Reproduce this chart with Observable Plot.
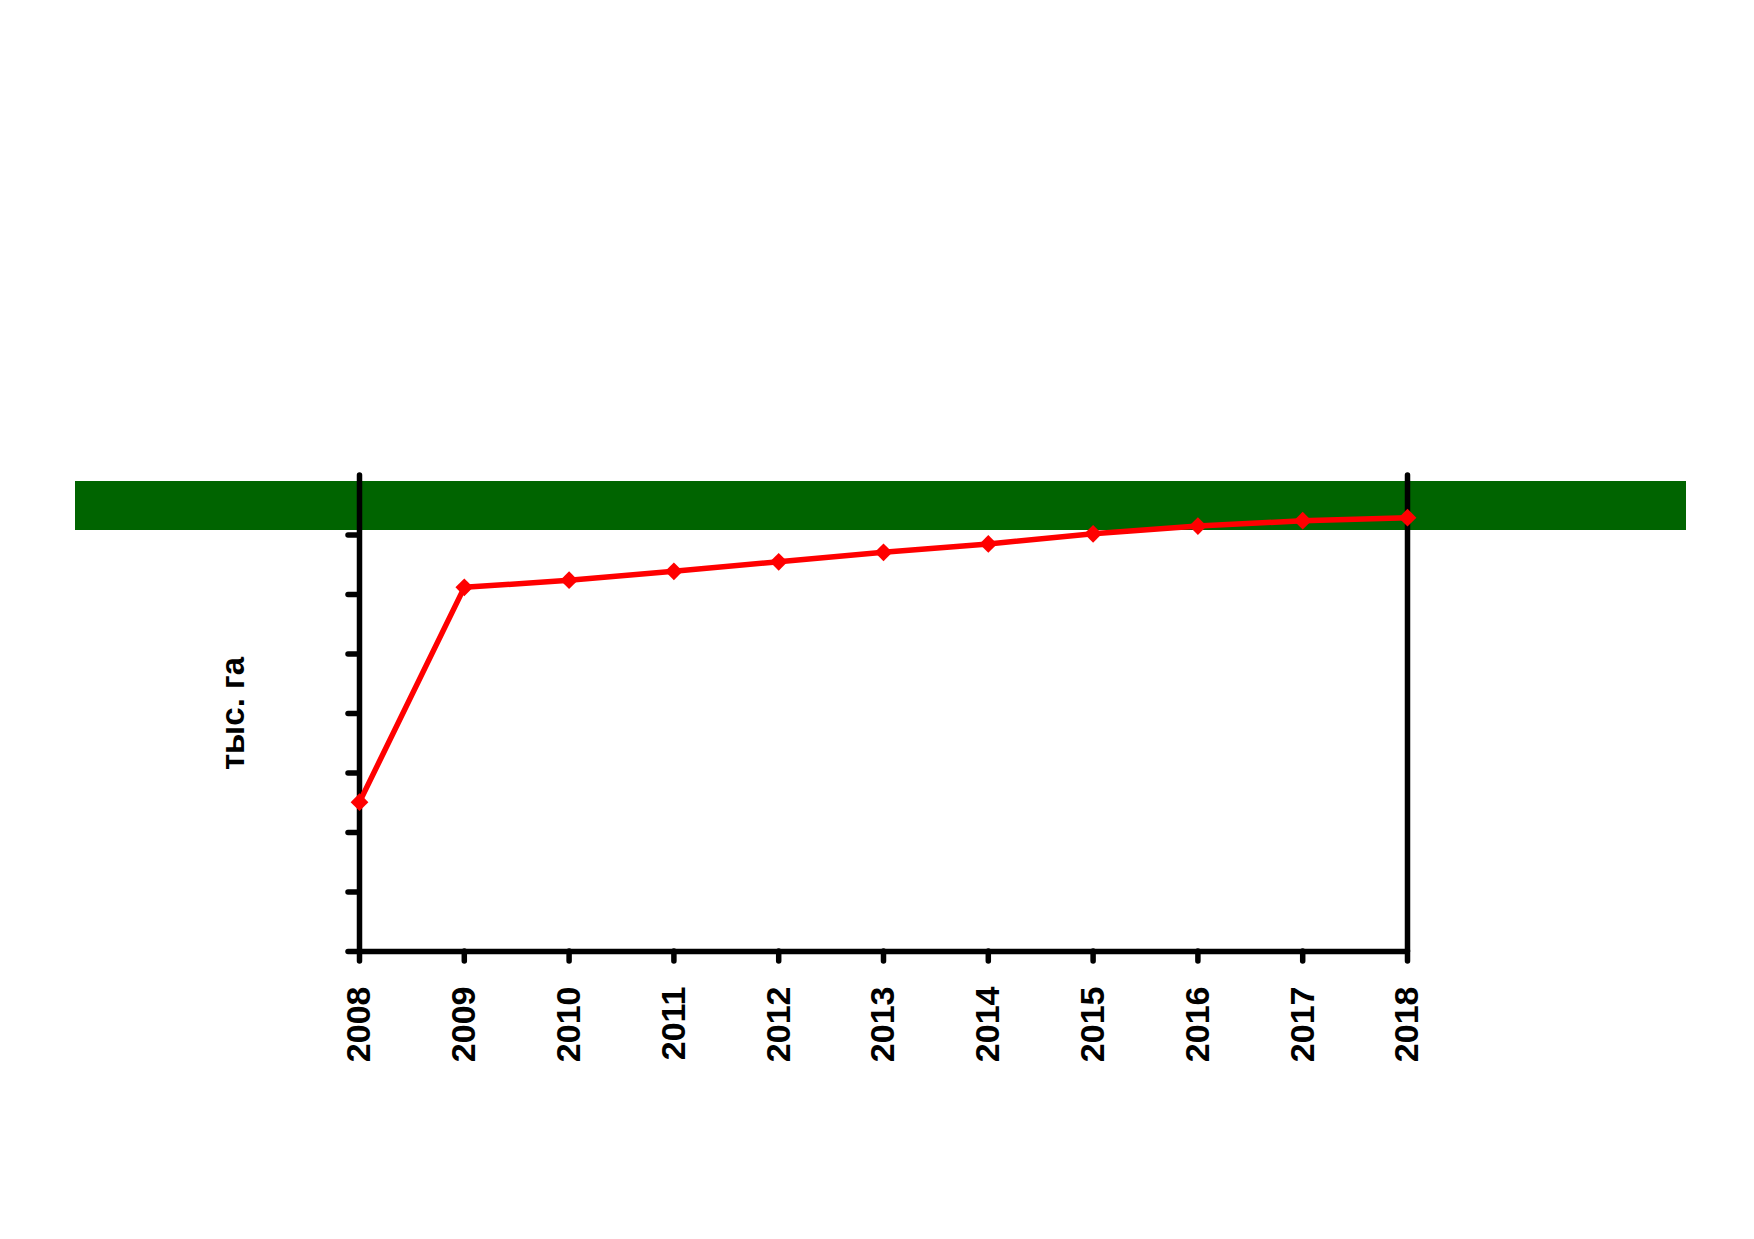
<!DOCTYPE html>
<html><head><meta charset="utf-8">
<script src="https://cdn.jsdelivr.net/npm/d3@7"></script>
<script src="https://cdn.jsdelivr.net/npm/@observablehq/plot@0.6"></script>
<style>
html,body{margin:0;padding:0;background:#fff;}
#wrap{position:relative;width:1754px;height:1239px;overflow:hidden;}
#band{position:absolute;left:75px;top:481px;width:1611px;height:49px;background:#006400;}
#chart{position:absolute;left:0;top:0;}
</style></head><body>
<div id="wrap"><div id="band"></div><div id="chart"></div></div>
<script>
const years = [2008, 2009, 2010, 2011, 2012, 2013, 2014, 2015, 2016, 2017, 2018];
const values = [2.51, 6.12, 6.24, 6.39, 6.55, 6.71, 6.85, 7.02, 7.15, 7.24, 7.29];
const yTicks = [0, 1, 2, 3, 4, 5, 6, 7];
const yMax = 8;
const yLabel = "тыс. га";

const data = years.map((y, i) => ({year: y, value: values[i]}));
const font = "'Liberation Sans', Arial, sans-serif";

const chart = Plot.plot({
  width: 1754,
  height: 1239,
  marginLeft: 359,
  marginRight: 347,
  marginTop: 475,
  marginBottom: 288,
  style: {background: "transparent", fontFamily: font, overflow: "visible"},
  x: {type: "linear", domain: [years[0], years[years.length - 1]]},
  y: {domain: [0, yMax]},
  marks: [
    Plot.axisX(years, {
      tickSize: 10, tickPadding: 25, tickRotate: -90,
      tickFormat: d => String(d), fontSize: 34, fontWeight: "bold",
      stroke: "black", strokeWidth: 5.5, strokeLinecap: "round", fill: "black", label: null
    }),
    Plot.axisY(yTicks, {
      tickSize: 11, tickFormat: () => "", strokeWidth: 5.5, strokeLinecap: "round", label: null
    }),
    Plot.ruleX([years[0], years[years.length - 1]], {y1: 0, y2: yMax, stroke: "black", strokeWidth: 5.5, strokeLinecap: "round"}),
    Plot.ruleY([0], {x1: years[0], x2: years[years.length - 1], stroke: "black", strokeWidth: 5.5, strokeLinecap: "round"}),
    Plot.line(data, {x: "year", y: "value", stroke: "#ff0000", strokeWidth: 5.5}),
    Plot.dot(data, {x: "year", y: "value", symbol: "diamond2", r: 8, fill: "#ff0000", stroke: "none"}),
    Plot.text([yLabel], {frameAnchor: "left", dx: -126, rotate: -90, fontSize: 33, fontWeight: "bold", fill: "black", textAnchor: "middle"})
  ]
});
document.getElementById("chart").appendChild(chart);
</script>
</body></html>
